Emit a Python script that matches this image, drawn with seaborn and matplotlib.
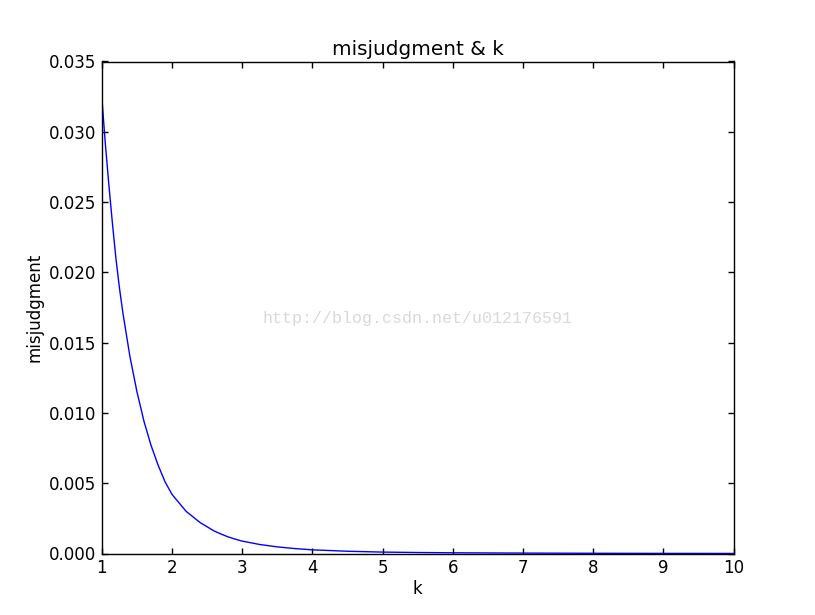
import numpy as np
import pandas as pd
import matplotlib
matplotlib.use('Agg')
import matplotlib.pyplot as plt
import seaborn as sns

# values
k = [1.0, 1.05, 1.1, 1.15, 1.2, 1.25, 1.3, 1.4, 1.5, 1.6, 1.7, 1.8, 1.9, 2.0,
     2.1, 2.2, 2.3, 2.4, 2.5, 2.6, 2.7, 2.8, 2.9, 3.0, 3.25, 3.5, 3.75,
     4.0, 4.5, 5.0, 5.5, 6.0, 7.0, 8.0, 9.0, 10.0]
misjudgment = [0.0324, 0.0291, 0.0262, 0.0235, 0.0210, 0.0189, 0.0171, 0.0140,
               0.0115, 0.0094, 0.0077, 0.0063, 0.0051, 0.0042,
               0.0036, 0.0030, 0.0026, 0.0022, 0.0019, 0.0016, 0.00138, 0.00118,
               0.00102, 0.00088, 0.00064, 0.00047, 0.00035,
               0.00026, 0.00016, 0.00010, 0.00007, 0.00005, 0.00003,
               0.000015, 0.000008, 0.000004]

df = pd.DataFrame({'k': k, 'misjudgment': misjudgment})

sns.set_style('ticks')
plt.rcParams['font.family'] = ['DejaVu Sans']
plt.rcParams['xtick.direction'] = 'in'
plt.rcParams['ytick.direction'] = 'in'
plt.rcParams['text.color'] = 'black'
plt.rcParams['axes.labelcolor'] = 'black'
plt.rcParams['xtick.color'] = 'black'
plt.rcParams['ytick.color'] = 'black'

fig = plt.figure(figsize=(8.15, 6.15), dpi=100)
ax = fig.add_axes([0.125, 0.1, 0.775, 0.8])
sns.lineplot(data=df, x='k', y='misjudgment', color='#0000ff', linewidth=1, ax=ax)

ax.set_xlim(1, 10)
ax.set_ylim(0, 0.035)
ax.set_xticks(range(1, 11))
ax.set_yticks(np.arange(0, 0.0351, 0.005))
ax.yaxis.set_major_formatter(matplotlib.ticker.FormatStrFormatter('%.3f'))
ax.tick_params(which='major', length=4, width=1, labelsize=12, pad=4,
               top=True, right=True, color='black', labelcolor='black')
for s in ax.spines.values():
    s.set_linewidth(1)
    s.set_color('black')

ax.set_xlabel('k', fontsize=12, labelpad=2)
ax.set_ylabel('misjudgment', fontsize=12)
ax.set_title('misjudgment & k', fontsize=14.4, pad=5)

fig.text(0.512, 0.482, 'http://blog.csdn.net/u012176591', color='#d9d9d9',
         fontsize=12, family='Liberation Mono', ha='center', va='center')

fig.savefig('out.png', dpi=100, facecolor='white')
